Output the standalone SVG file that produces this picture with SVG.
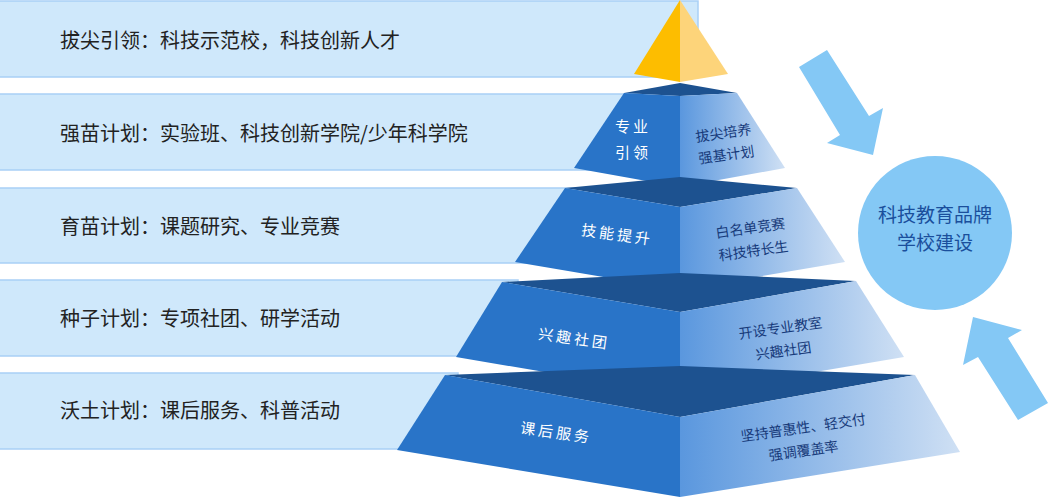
<svg xmlns="http://www.w3.org/2000/svg" width="1049" height="500" viewBox="0 0 1049 500">
<style>
.ban{fill:#cfe8fb;stroke:#a9d0f6;stroke-width:1.5}
.bt{font-family:"Noto Sans CJK SC","Noto Sans",sans-serif;font-size:20px;fill:#222}
.top{fill:#1d5290}
.lf{fill:#2974c8}
.rf{fill:url(#g)}
.wl{font-family:"Noto Sans CJK SC",sans-serif;font-size:15px;fill:#fff;text-anchor:middle;letter-spacing:3px}
.rl{font-family:"Noto Sans CJK SC",sans-serif;font-size:14px;fill:#173a7a;text-anchor:middle}
.arr{fill:#84c8f5}
</style>
<defs>
<linearGradient id="g" x1="0" x2="1" y1="0" y2="0"><stop offset="0" stop-color="#5a97de"/><stop offset="1" stop-color="#cfe0f4"/></linearGradient>
</defs>
<g id="banners">
<g id="b1"><rect class="ban" x="-2" y="1" width="700" height="76"/><text class="bt" x="60" y="48">拔尖引领：科技示范校，科技创新人才</text></g>
<g id="b2"><rect class="ban" x="-2" y="94" width="640" height="76"/><text class="bt" x="60" y="141">强苗计划：实验班、科技创新学院/少年科学院</text></g>
<g id="b3"><rect class="ban" x="-2" y="188" width="580" height="75"/><text class="bt" x="60" y="234">育苗计划：课题研究、专业竞赛</text></g>
<g id="b4"><rect class="ban" x="-2" y="280" width="520" height="76"/><text class="bt" x="60" y="326">种子计划：专项社团、研学活动</text></g>
<g id="b5"><rect class="ban" x="-2" y="373" width="460" height="76"/><text class="bt" x="60" y="418">沃土计划：课后服务、科普活动</text></g>
</g>
<g id="apex"><polygon points="680,0 634,74 680,82" fill="#fdbd00"/><polygon points="680,0 728,74 680,82" fill="#fdd47a"/></g>
<g id="t1">
<polygon class="top" points="624,93 680,83 737,93 680,96"/>
<polygon class="lf" points="624,93 680,96 680,187 574,168"/>
<polygon class="rf" points="680,96 737,93 785,168 680,187"/>
<text class="wl" x="633" y="132">专业</text><text class="wl" x="633" y="158">引领</text>
<g transform="rotate(-8 725 145)"><text class="rl" x="725" y="138">拔尖培养</text><text class="rl" x="725" y="160">强基计划</text></g>
</g>
<g id="t2">
<polygon class="top" points="565,188 680,177 797,188 680,207"/>
<polygon class="lf" points="565,188 680,207 680,290 515,262"/>
<polygon class="rf" points="680,207 797,188 845,262 680,290"/>
<text class="wl" x="617" y="240" transform="rotate(8 617 236)">技能提升</text>
<g transform="rotate(-8 752 240)"><text class="rl" x="752" y="233">白名单竞赛</text><text class="rl" x="752" y="256">科技特长生</text></g>
</g>
<g id="t3">
<polygon class="top" points="502,282 680,273 856,281 680,312"/>
<polygon class="lf" points="502,282 680,312 680,395 456,357"/>
<polygon class="rf" points="680,312 856,281 904,357 680,395"/>
<text class="wl" x="574" y="344" transform="rotate(8 574 340)">兴趣社团</text>
<g transform="rotate(-8 782 340)"><text class="rl" x="782" y="333">开设专业教室</text><text class="rl" x="782" y="356">兴趣社团</text></g>
</g>
<g id="t4">
<polygon class="top" points="445,375 680,366 915,375 680,417"/>
<polygon class="lf" points="445,375 680,417 680,497 397,450"/>
<polygon class="rf" points="680,417 915,375 960,452 680,497"/>
<text class="wl" x="556" y="438" transform="rotate(8 556 434)">课后服务</text>
<g transform="rotate(-8 802 440)"><text class="rl" x="805" y="433">坚持普惠性、轻交付</text><text class="rl" x="802" y="456">强调覆盖率</text></g>
</g>
<g id="brand"><circle cx="935" cy="233" r="77" fill="#84c8f5"/>
<text x="935" y="222" font-family="Noto Sans CJK SC,sans-serif" font-size="19" fill="#1a4f9c" text-anchor="middle">科技教育品牌</text>
<text x="935" y="250" font-family="Noto Sans CJK SC,sans-serif" font-size="19" fill="#1a4f9c" text-anchor="middle">学校建设</text></g>
<g id="connectors">
<polygon class="arr" points="799,67 827,50 869,116 883,108 873,155 827,143 840,135"/>
<polygon class="arr" points="973,317 1022,330 1008,338 1048,403 1018,420 978,357 963,365"/>
</g>
</svg>
